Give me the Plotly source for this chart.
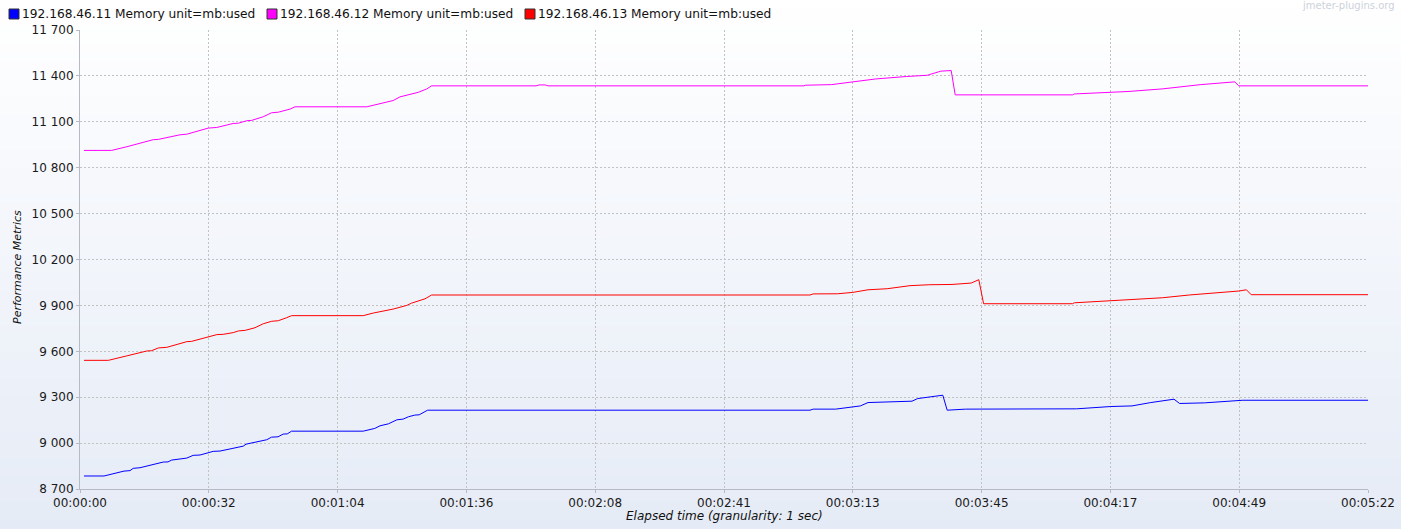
import plotly.graph_objects as go

# -------------------------------------------------------------------------------------
# DATA --------------------------------------------------------------------------------
# -------------------------------------------------------------------------------------

# elapsed seconds / memory used (mb) for each host
node11_sec = [1, 6, 11, 12.5, 13.3, 15, 20.8, 22, 22.9, 26.7, 28.3, 30, 33.3, 35, 40.8,
              41.5, 46.7, 47.9, 49.5, 50.8, 51.8, 52.9, 70.8, 73.7, 75, 77.1, 79.2, 80.8,
              82.1, 83.7, 84.8, 86, 86.9, 182.5, 183.3, 188.9, 195.1, 197, 203.7, 208,
              209.4, 215.7, 216.8, 221.4, 249.1, 257.7, 263, 267.7, 273.5, 274.9, 281.1,
              285.9, 290.7, 322]
node11_mb = [8785, 8785, 8817, 8820, 8835, 8839, 8876, 8877, 8889, 8902, 8920, 8922, 8946,
             8948, 8980, 8993, 9022, 9039, 9041, 9059, 9060, 9078, 9078, 9096, 9113, 9126,
             9152, 9157, 9172, 9183, 9185, 9204, 9215, 9215, 9222, 9222, 9243, 9265, 9272,
             9274, 9291, 9313, 9215, 9222, 9224, 9239, 9243, 9265, 9287, 9259, 9263, 9272,
             9280, 9280]

node12_sec = [1, 7.9, 11.7, 18.3, 19.6, 25, 26.7, 32.1, 34.2, 38.3, 39.6, 41.7, 42.9, 45.8,
              47.9, 49.6, 52.5, 53.75, 71.7, 76.25, 78.3, 80, 84.6, 86.7, 87.9, 114, 114.8,
              116.3, 117, 181, 181.3, 187.9, 193.2, 198.9, 206.6, 211.8, 215.2, 217.8,
              218.8, 248.1, 248.6, 257.2, 262, 270.6, 280.2, 288.7, 289.7, 322]
node12_mb = [10913, 10913, 10937, 10983, 10985, 11015, 11019, 11059, 11063, 11089, 11091,
             11107, 11109, 11133, 11159, 11163, 11183, 11198, 11198, 11226, 11239, 11263,
             11293, 11315, 11335, 11335, 11341, 11341, 11335, 11335, 11339, 11343, 11361,
             11380, 11396, 11404, 11431, 11435, 11276, 11276, 11282, 11291, 11298, 11315,
             11343, 11361, 11335, 11335]

node13_sec = [1, 7.1, 11.7, 16.7, 17.9, 19.6, 21.7, 26.7, 27.9, 34.2, 35.8, 38.3, 39.6, 41.3,
              43.75, 45.8, 47.9, 49.6, 51.7, 52.9, 70.8, 73.3, 78.3, 81.7, 82.9, 85.4, 86.25,
              87.9, 182.5, 183.3, 189.4, 193.2, 197, 201.8, 207.5, 212.3, 218, 222.8, 224.7,
              225.9, 248.1, 248.6, 253.4, 258.2, 264.9, 270.6, 277.3, 284, 289.7, 291.6,
              292.8, 322]
node13_mb = [9541, 9541, 9570, 9602, 9604, 9622, 9626, 9663, 9665, 9709, 9711, 9722, 9733,
             9737, 9754, 9780, 9796, 9800, 9820, 9833, 9833, 9850, 9876, 9900, 9915, 9933,
             9943, 9968, 9968, 9975, 9976, 9985, 10002, 10009, 10029, 10035, 10037, 10046,
             10068, 9911, 9911, 9917, 9924, 9930, 9941, 9950, 9968, 9981, 9994, 10002, 9970,
             9970]

series_names = ['192.168.46.11 Memory unit=mb:used',
                '192.168.46.12 Memory unit=mb:used',
                '192.168.46.13 Memory unit=mb:used']

x_tick_sec = [0, 32.2, 64.4, 96.6, 128.8, 161, 193.2, 225.4, 257.6, 289.8, 322]
x_tick_labels = ['00:00:00', '00:00:32', '00:01:04', '00:01:36', '00:02:08', '00:02:41',
                 '00:03:13', '00:03:45', '00:04:17', '00:04:49', '00:05:22']
y_ticks = [8700, 9000, 9300, 9600, 9900, 10200, 10500, 10800, 11100, 11400, 11700]

# -------------------------------------------------------------------------------------
# LAYOUT HELPERS ----------------------------------------------------------------------
# -------------------------------------------------------------------------------------

W, H = 1401, 529
L, R, T, B = 80, 33, 30, 40
PW, PH = W - L - R, H - T - B
FONT = 'DejaVu Sans'


def px_x(p):
    return (p - L) / PW


def px_y(p):
    return (H - B - p) / PH


colors = ['#0000ff', '#ff00ff', '#ff0000']
xs = [node11_sec, node12_sec, node13_sec]
ys = [node11_mb, node12_mb, node13_mb]

fig = go.Figure()
for name, x, y, c in zip(series_names, xs, ys, colors):
    fig.add_trace(go.Scatter(x=x, y=y, name=name, mode='lines',
                             line=dict(color=c, width=1), showlegend=False))

# vertical white -> light blue background, drawn as thin bands
shapes = []
n_bands = 60
top_rgb, bot_rgb = (255, 255, 255), (229, 235, 246)
for i in range(n_bands):
    f = (i + 0.5) / n_bands
    rgb = [round(a + (b - a) * f) for a, b in zip(top_rgb, bot_rgb)]
    shapes.append(dict(type='rect', xref='paper', yref='paper', layer='below',
                       x0=px_x(-2), x1=px_x(W + 2),
                       y0=px_y(i * H / n_bands - 0.5), y1=px_y((i + 1) * H / n_bands + 0.5),
                       line=dict(width=0), fillcolor=f'rgb({rgb[0]},{rgb[1]},{rgb[2]})'))

# legend: little squares with text
annotations = []
legend_left = [9, 267, 525]
for name, c, lx in zip(series_names, colors, legend_left):
    shapes.append(dict(type='rect', xref='paper', yref='paper',
                       x0=px_x(lx), x1=px_x(lx + 10), y0=px_y(9), y1=px_y(19),
                       fillcolor=c, line=dict(color='#333333', width=1)))
    annotations.append(dict(text=name, xref='paper', yref='paper', x=px_x(lx + 11),
                            y=px_y(14), xanchor='left', yanchor='middle', showarrow=False,
                            font=dict(family=FONT, size=12.2, color='#111111')))

annotations.append(dict(text='jmeter-plugins.org', xref='paper', yref='paper',
                        x=px_x(1397), y=px_y(6), xanchor='right', yanchor='middle',
                        showarrow=False, font=dict(family=FONT, size=10, color='#cdd2da')))
annotations.append(dict(text='<i>Performance Metrics</i>', xref='paper', yref='paper',
                        x=px_x(17), y=px_y(267), textangle=-90, xanchor='center',
                        yanchor='middle', showarrow=False,
                        font=dict(family=FONT, size=11, color='#111111')))
annotations.append(dict(text='<i>Elapsed time (granularity: 1 sec)</i>', xref='paper',
                        yref='paper', x=0.5, y=px_y(516), xanchor='center',
                        yanchor='middle', showarrow=False,
                        font=dict(family=FONT, size=12, color='#111111')))

axis_style = dict(showline=True, linecolor='#b6bac3', linewidth=1, ticks='outside',
                  ticklen=3, tickcolor='#b6bac3', showgrid=True, gridcolor='#c2c2c2',
                  griddash='2px,2px', gridwidth=1, zeroline=False, automargin=False,
                  tickfont=dict(family=FONT, size=12, color='#1a1a1a'))

fig.update_layout(width=W, height=H,
                  margin=dict(l=L, r=R, t=T, b=B, autoexpand=False),
                  paper_bgcolor='white', plot_bgcolor='rgba(0,0,0,0)',
                  separators='. ', shapes=shapes, annotations=annotations,
                  xaxis=dict(range=[0, 322], tickvals=x_tick_sec, ticktext=x_tick_labels,
                             **axis_style),
                  yaxis=dict(range=[8700, 11700], tickvals=y_ticks, tickformat=',d',
                             **axis_style))

# page has an 8px body margin by default, drop it so the chart sits at 0,0
fig.write_html('out.html', config={'displayModeBar': False},
               post_script="document.body.style.margin='0';")
